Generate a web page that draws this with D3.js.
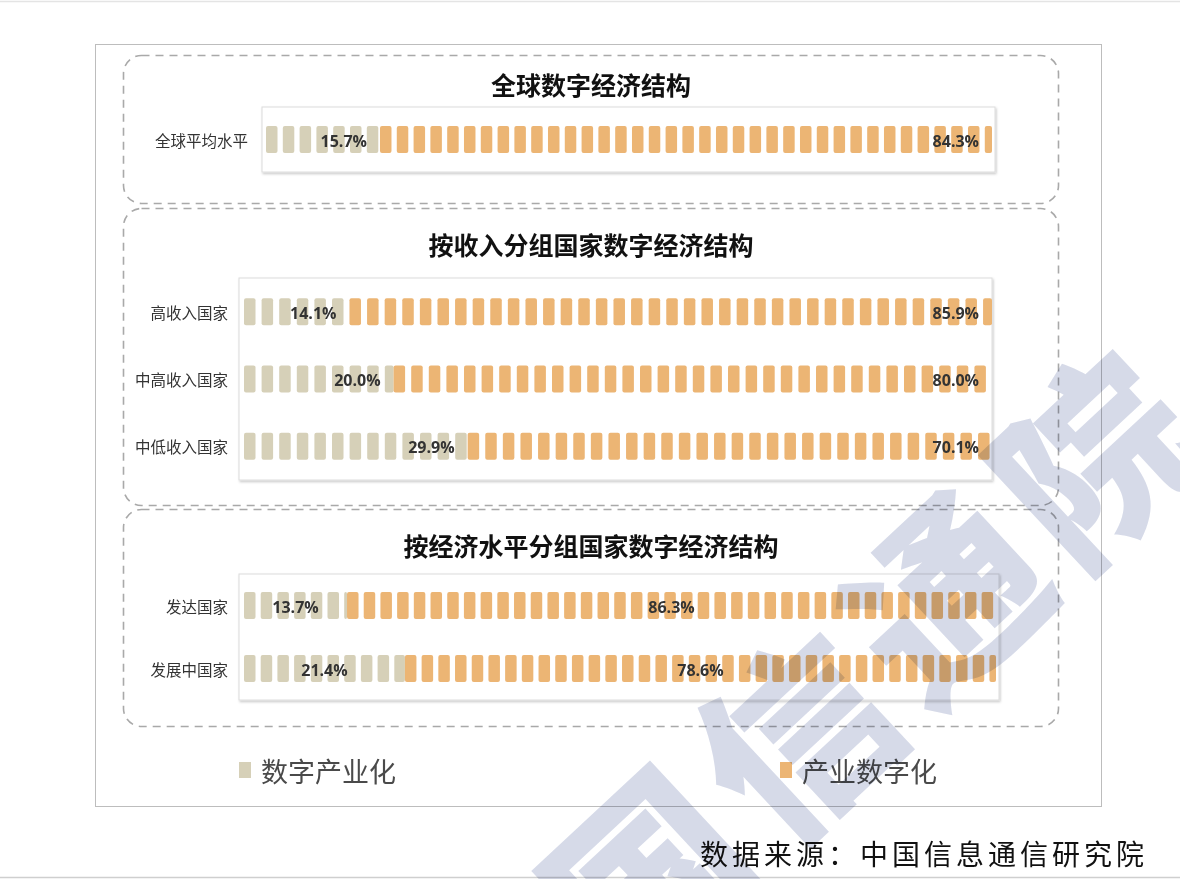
<!DOCTYPE html>
<html lang="zh">
<head>
<meta charset="UTF-8">
<title>数字经济结构</title>
<script src="https://cdn.jsdelivr.net/npm/d3@7/dist/d3.min.js"></script>
<style>
  * { margin: 0; padding: 0; }
  body { background: #fff; width: 1180px; height: 879px; overflow: hidden; }
  svg { display: block; font-family: "Noto Sans CJK SC", "Noto Sans", sans-serif; }
  .wm { mix-blend-mode: multiply; }
</style>
</head>
<body>
<svg id="chart" width="1180" height="879"></svg>
<script>
// section titles
const sectionTitles = ['全球数字经济结构', '按收入分组国家数字经济结构', '按经济水平分组国家数字经济结构'];

// rows per section
const globalRows = ['全球平均水平'];
const incomeRows = ['高收入国家', '中高收入国家', '中低收入国家'];
const levelRows = ['发达国家', '发展中国家'];

// 数字产业化 (%)
const globalDigitalIndustry = [15.7];
const incomeDigitalIndustry = [14.1, 20.0, 29.9];
const levelDigitalIndustry = [13.7, 21.4];

// 产业数字化 (%)
const globalIndustryDigital = [84.3];
const incomeIndustryDigital = [85.9, 80.0, 70.1];
const levelIndustryDigital = [86.3, 78.6];

const seriesNames = ['数字产业化', '产业数字化'];
const colors = ['#d6d0b8', '#ecb574'];

const svg = d3.select('#chart');

// ---------------------------------------------------------------------------
// page frame
// ---------------------------------------------------------------------------
svg.append('line').attr('x1', 0).attr('x2', 1180).attr('y1', 1.5).attr('y2', 1.5)
  .attr('stroke', '#e4e4e4').attr('stroke-width', 1.5);
svg.append('line').attr('x1', 0).attr('x2', 1180).attr('y1', 877.5).attr('y2', 877.5)
  .attr('stroke', '#cfcfcf').attr('stroke-width', 1.5);
svg.append('rect').attr('x', 95.5).attr('y', 44.5).attr('width', 1006).attr('height', 762)
  .attr('fill', '#fff').attr('stroke', '#bdbdbd').attr('stroke-width', 1);

const defs = svg.append('defs');
const shadow = defs.append('filter').attr('id', 'shadow')
  .attr('x', '-5%').attr('y', '-20%').attr('width', '110%').attr('height', '140%');
shadow.append('feDropShadow').attr('dx', 1).attr('dy', 1.5).attr('stdDeviation', 1.2)
  .attr('flood-color', '#000').attr('flood-opacity', 0.22);

// ---------------------------------------------------------------------------
// sections
// ---------------------------------------------------------------------------
const sections = [
  { title: sectionTitles[0], rows: globalRows, a: globalDigitalIndustry, b: globalIndustryDigital,
    box: [55, 203], titleY: 84, panel: [262, 107, 995, 172], bar: [266, 992], labelEnd: 248,
    pitch: 16.8, labelMode: 'right' },
  { title: sectionTitles[1], rows: incomeRows, a: incomeDigitalIndustry, b: incomeIndustryDigital,
    box: [208, 505], titleY: 244, panel: [239, 278, 992, 480], bar: [244, 992], labelEnd: 228,
    pitch: 17.6, labelMode: 'right' },
  { title: sectionTitles[2], rows: levelRows, a: levelDigitalIndustry, b: levelIndustryDigital,
    box: [509, 726], titleY: 545, panel: [239, 574, 999, 700], bar: [244, 996], labelEnd: 228,
    pitch: 16.7, labelMode: 'center' }
];

const blockW = 11.5, blockH = 27;

sections.forEach((s, si) => {
  const g = svg.append('g');

  // dashed group box
  g.append('rect')
    .attr('x', 123.5).attr('y', s.box[0] + 0.5)
    .attr('width', 935).attr('height', s.box[1] - s.box[0])
    .attr('rx', 18).attr('ry', 18)
    .attr('fill', 'none').attr('stroke', '#a9a9a9')
    .attr('stroke-width', 1.6).attr('stroke-dasharray', '8,6');

  g.append('text')
    .attr('x', 591).attr('y', s.titleY)
    .attr('text-anchor', 'middle').attr('dominant-baseline', 'central')
    .attr('font-size', 25).attr('font-weight', 700).attr('fill', '#111')
    .text(s.title);

  const [px0, py0, px1, py1] = s.panel;
  g.append('rect')
    .attr('x', px0).attr('y', py0).attr('width', px1 - px0).attr('height', py1 - py0)
    .attr('fill', '#fff').attr('stroke', '#dcdcdc').attr('stroke-width', 1)
    .attr('filter', 'url(#shadow)');

  const x = d3.scaleLinear().domain([0, 100]).range(s.bar);
  const y = d3.scalePoint().domain(s.rows).range([py0, py1]).padding(0.5);

  // category labels
  g.append('g').selectAll('text')
    .data(s.rows)
    .join('text')
    .attr('x', s.labelEnd).attr('y', d => y(d))
    .attr('text-anchor', 'end').attr('dominant-baseline', 'central')
    .attr('font-size', 15.5).attr('fill', '#333')
    .text(d => d);

  // pictorial bars: repeated blocks clipped at the segment end
  const segments = [];
  s.rows.forEach((r, i) => {
    segments.push({ row: r, series: 0, from: 0, to: s.a[i], value: s.a[i] });
    segments.push({ row: r, series: 1, from: s.a[i], to: s.a[i] + s.b[i], value: s.b[i] });
  });

  segments.forEach(seg => {
    const x0 = x(seg.from), x1 = Math.min(x(seg.to), px1);
    const starts = d3.range(x0, x1, s.pitch);
    g.append('g').selectAll('rect')
      .data(starts)
      .join('rect')
      .attr('x', d => d)
      .attr('y', y(seg.row) - blockH / 2)
      .attr('width', d => Math.min(blockW, x1 - d))
      .attr('height', blockH)
      .attr('rx', 2)
      .attr('fill', colors[seg.series]);

    const lx = s.labelMode === 'right' ? x1 - 13 : (x0 + x1) / 2;
    g.append('text')
      .attr('x', lx).attr('y', y(seg.row) + 1)
      .attr('text-anchor', s.labelMode === 'right' ? 'end' : 'middle')
      .attr('dominant-baseline', 'central')
      .attr('font-family', '"Open Sans", "DejaVu Sans", sans-serif')
      .attr('font-size', 16).attr('font-weight', 700).attr('fill', '#333')
      .text(d3.format('.1f')(seg.value) + '%');
  });
});

// ---------------------------------------------------------------------------
// legend
// ---------------------------------------------------------------------------
const legendX = d3.scalePoint().domain(seriesNames).range([239, 780]);
const legend = svg.append('g').selectAll('g')
  .data(seriesNames)
  .join('g')
  .attr('transform', d => `translate(${legendX(d)},770)`);
legend.append('rect')
  .attr('x', 0).attr('y', -8).attr('width', 12).attr('height', 16)
  .attr('fill', (d, i) => colors[i]);
legend.append('text')
  .attr('x', 22).attr('y', 0)
  .attr('dominant-baseline', 'central')
  .attr('font-size', 27).attr('fill', '#4a4a4a')
  .text(d => d);

// ---------------------------------------------------------------------------
// source + watermark
// ---------------------------------------------------------------------------
svg.append('text')
  .attr('x', 1148).attr('y', 853)
  .attr('text-anchor', 'end').attr('dominant-baseline', 'central')
  .attr('font-size', 28).attr('letter-spacing', 4).attr('fill', '#111')
  .text('数据来源：中国信息通信研究院');

svg.append('text')
  .attr('class', 'wm')
  .attr('transform', 'translate(795,725) rotate(-43)')
  .attr('text-anchor', 'middle').attr('dominant-baseline', 'central')
  .attr('font-size', 190).attr('font-weight', 900).attr('letter-spacing', 14)
  .attr('fill', '#ccd1e3').attr('opacity', 0.8)
  .text('中国信通院');
</script>
</body>
</html>
